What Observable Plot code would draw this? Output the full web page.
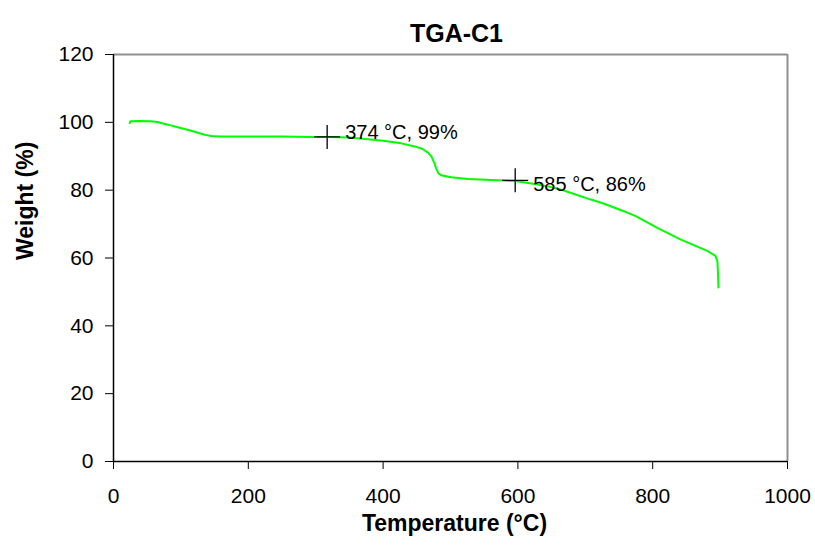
<!DOCTYPE html>
<html>
<head>
<meta charset="utf-8">
<script src="https://cdn.jsdelivr.net/npm/d3@7"></script>
<script src="https://cdn.jsdelivr.net/npm/@observablehq/plot@0.6"></script>
<style>
  html, body { margin: 0; padding: 0; background: #fff; }
</style>
</head>
<body>
<div id="chart"></div>
<script>
const title = "TGA-C1";
const xLabel = "Temperature (°C)";
const yLabel = "Weight (%)";
const xTicks = [0, 200, 400, 600, 800, 1000];
const yTicks = [0, 20, 40, 60, 80, 100, 120];

const temperature = [24, 25, 40, 55, 65, 75, 85, 94, 104, 114, 124, 134, 145, 158, 200, 250, 292, 318, 350, 377, 400, 427, 447, 458, 467, 472, 476, 479, 482, 486, 501, 526, 560, 596, 625, 650, 668, 707, 725, 757, 774, 807, 824, 841, 861, 881, 893, 896, 897, 897.5];
const weight =      [99.8, 100.3, 100.4, 100.3, 100.1, 99.6, 99.1, 98.6, 98.1, 97.6, 97.0, 96.4, 96.0, 95.8, 95.8, 95.8, 95.7, 95.7, 95.5, 95.0, 94.6, 93.8, 92.9, 92.2, 91.0, 89.8, 88.0, 86.3, 85.0, 84.4, 83.8, 83.3, 83.0, 82.7, 81.8, 80.9, 79.9, 77.3, 76.2, 73.8, 72.4, 68.9, 67.2, 65.5, 63.8, 62.1, 60.6, 59.1, 55.0, 51.3];

const markerTemp = [317, 596];
const markerWeight = [95.7, 82.9];
const markerLabels = ["374 °C, 99%", "585 °C, 86%"];

const curve = temperature.map((t, i) => ({t, w: weight[i]}));
const markers = markerTemp.map((t, i) => ({t, w: markerWeight[i], label: markerLabels[i]}));

const crossSymbol = {
  draw(ctx) {
    ctx.moveTo(-13, 0); ctx.lineTo(13, 0);
    ctx.moveTo(0, -12); ctx.lineTo(0, 12);
  }
};

const chart = Plot.plot({
  width: 815,
  height: 550,
  marginLeft: 113,
  marginRight: 28,
  marginTop: 54,
  marginBottom: 89,
  style: {fontFamily: "'Liberation Sans', Arial, sans-serif", background: "#fff", color: "#000"},
  x: {domain: [0, 1000]},
  y: {domain: [0, 120]},
  marks: [
    Plot.ruleY([120], {stroke: "#909090", strokeWidth: 2}),
    Plot.ruleX([1000], {stroke: "#909090", strokeWidth: 2}),
    Plot.line(curve, {x: "t", y: "w", stroke: "#00ff00", strokeWidth: 2}),
    Plot.dot(markers, {x: "t", y: "w", symbol: crossSymbol, r: 10, fill: "none", stroke: "#000", strokeWidth: 1.3}),
    Plot.text(markers.filter((d, i) => i === 0), {x: "t", y: "w", text: "label", textAnchor: "start", dx: 18, dy: -4, fontSize: 20, fill: "#000"}),
    Plot.text(markers.filter((d, i) => i === 1), {x: "t", y: "w", text: "label", textAnchor: "start", dx: 18, dy: 4, fontSize: 20, fill: "#000"}),
    Plot.ruleX([0], {stroke: "#000", strokeWidth: 1.5}),
    Plot.ruleY([0], {stroke: "#000", strokeWidth: 1.5}),
    Plot.axisX({ticks: xTicks, tickSize: 8, tickPadding: 19, fontSize: 21, label: null, tickFormat: d => String(d)}),
    Plot.axisY({ticks: yTicks, tickSize: 8, tickPadding: 12, fontSize: 21, label: null, tickFormat: d => String(d)}),
    Plot.text([title], {frameAnchor: "top", dx: 6, dy: -30, fontSize: 25, fontWeight: "bold", fill: "#000"}),
    Plot.text([xLabel], {frameAnchor: "bottom", dx: 4, dy: 69, fontSize: 23, fontWeight: "bold", fill: "#000"}),
    Plot.text([yLabel], {frameAnchor: "left", dx: -88, dy: 2, rotate: -90, fontSize: 23, fontWeight: "bold", fill: "#000"})
  ]
});
document.getElementById("chart").appendChild(chart);
</script>
</body>
</html>
